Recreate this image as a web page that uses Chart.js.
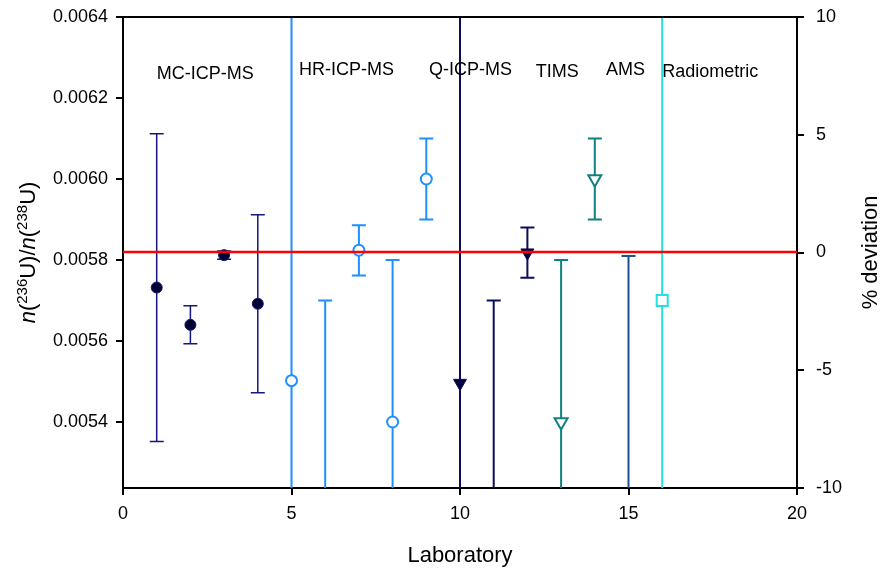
<!DOCTYPE html>
<html lang="en">
<head>
<meta charset="UTF-8">
<title>n(236U)/n(238U) laboratory comparison</title>
<script src="https://cdn.jsdelivr.net/npm/chart.js@4.4.1/dist/chart.umd.min.js"></script>
<style>
  html, body { margin: 0; padding: 0; background: #fff; }
</style>
</head>
<body>
<canvas id="ratioChart" width="880" height="569"></canvas>
<script>
// reported ratios per laboratory, with their uncertainty
const labs    = [1, 2, 3, 4, 5, 6, 7, 8, 9, 10, 11, 12, 13, 14, 15, 16];
const ratios  = [0.005732, 0.00564, 0.005812, 0.005692, 0.005502, 0.0050, 0.005824, 0.0054,
                 0.0060, 0.005496, 0.0050, 0.005818, 0.0054, 0.0060, 0.0050, 0.0057];
const uncert  = [0.00038, 0.000047, 0.00001, 0.00022, 0.0012, 0.0007, 0.000062, 0.0004,
                 0.0001, 0.0012, 0.0007, 0.000062, 0.0004, 0.0001, 0.00081, 0.0012];
const methods = ['MC', 'MC', 'MC', 'MC', 'HR', 'HR', 'HR', 'HR', 'HR', 'Q', 'Q', 'Q',
                 'TIMS', 'TIMS', 'AMS', 'RAD'];
const refValue = 0.00582;

const groupNames = ['MC-ICP-MS', 'HR-ICP-MS', 'Q-ICP-MS', 'TIMS', 'AMS', 'Radiometric'];

const xTicks     = [0, 5, 10, 15, 20];
const leftTicks  = [0.0054, 0.0056, 0.0058, 0.0060, 0.0062, 0.0064];
const rightTicks = [-10, -5, 0, 5, 10];

// where the technique names sit (lab units, ratio units)
const groupLabelX = [1.0, 5.22, 9.08, 12.25, 14.33, 16.0];
const groupLabelY = [0.006258, 0.00627, 0.00627, 0.006265, 0.00627, 0.006265];

const FONT = "'Liberation Sans', Arial, sans-serif";

const styles = {
  MC:   { color: '#16167f', fill: '#000030', shape: 'circle',   r: 5.5, rot: 0,   bw: 1, lw: 1.5 },
  HR:   { color: '#1e8fff', fill: '#ffffff', shape: 'circle',   r: 5.5, rot: 0,   bw: 2, lw: 2 },
  Q:    { color: '#0c0c5c', fill: '#000040', shape: 'triangle', r: 7.5, rot: 180, bw: 1, lw: 2 },
  TIMS: { color: '#118080', fill: '#ffffff', shape: 'triangle', r: 7.5, rot: 180, bw: 2, lw: 2 },
  AMS:  { color: '#1f4f8f', fill: '#ffffff', shape: 'circle',   r: 5,   rot: 0,   bw: 2, lw: 2 },
  RAD:  { color: '#24e0e0', fill: '#ffffff', shape: 'rect',     r: 7.8, rot: 0,   bw: 2, lw: 2 }
};
const st = i => styles[methods[i]];

// vertical error bars with caps, clipped to the plot area
const errorBars = {
  id: 'errorBars',
  beforeDatasetsDraw(chart) {
    const { ctx, chartArea: a, scales: { x, y } } = chart;
    ctx.save();
    ctx.beginPath();
    ctx.rect(a.left, a.top, a.right - a.left, a.bottom - a.top);
    ctx.clip();
    labs.forEach((lab, i) => {
      const px = x.getPixelForValue(lab);
      const top = y.getPixelForValue(ratios[i] + uncert[i]);
      const bot = y.getPixelForValue(ratios[i] - uncert[i]);
      ctx.strokeStyle = st(i).color;
      ctx.lineWidth = st(i).lw;
      ctx.beginPath();
      ctx.moveTo(px, top); ctx.lineTo(px, bot);
      ctx.moveTo(px - 7, top); ctx.lineTo(px + 7, top);
      ctx.moveTo(px - 7, bot); ctx.lineTo(px + 7, bot);
      ctx.stroke();
    });
    ctx.restore();
  }
};

// top frame line, technique names and axis titles
const decorations = {
  id: 'decorations',
  afterDraw(chart) {
    const { ctx, chartArea: a, scales: { x, y } } = chart;
    ctx.save();
    ctx.strokeStyle = '#000';
    ctx.lineWidth = 2;
    ctx.beginPath();
    ctx.moveTo(a.left - 1, a.top);
    ctx.lineTo(a.right + 1, a.top);
    ctx.stroke();

    ctx.fillStyle = '#000';
    ctx.font = '18px ' + FONT;
    ctx.textAlign = 'left';
    ctx.textBaseline = 'middle';
    groupNames.forEach((name, i) => {
      ctx.fillText(name, x.getPixelForValue(groupLabelX[i]), y.getPixelForValue(groupLabelY[i]));
    });

    // x title
    ctx.font = '22px ' + FONT;
    ctx.textAlign = 'center';
    ctx.textBaseline = 'alphabetic';
    ctx.fillText('Laboratory', (a.left + a.right) / 2, 562);

    // right title
    const midY = (a.top + a.bottom) / 2;
    ctx.save();
    ctx.translate(877, midY);
    ctx.rotate(-Math.PI / 2);
    ctx.fillText('% deviation', 0, 0);
    ctx.restore();

    // left title with italic n and superscript mass numbers
    const parts = [
      ['n', 'italic 22px ', 0], ['(', '22px ', 0], ['236', '15px ', 8], ['U)/', '22px ', 0],
      ['n', 'italic 22px ', 0], ['(', '22px ', 0], ['238', '15px ', 8], ['U)', '22px ', 0]
    ];
    let total = 0;
    parts.forEach(p => { ctx.font = p[1] + FONT; total += ctx.measureText(p[0]).width; });
    ctx.save();
    ctx.translate(34.5, midY);
    ctx.rotate(-Math.PI / 2);
    ctx.textAlign = 'left';
    let cx = -total / 2;
    parts.forEach(p => {
      ctx.font = p[1] + FONT;
      ctx.fillText(p[0], cx, -p[2]);
      cx += ctx.measureText(p[0]).width;
    });
    ctx.restore();
    ctx.restore();
  }
};

const axisGrid = { drawOnChartArea: false, drawTicks: true, tickLength: 7, color: '#000', lineWidth: 2 };
const tickFont = { family: FONT, size: 18 };

// fixed axis boxes so the plot area lands where it does in the figure
const fixBox = (w, h) => s => {
  if (w) s.width = w;
  if (h) s.height = h;
  s.paddingTop = 0; s.paddingBottom = 0; s.paddingLeft = 0; s.paddingRight = 0;
};

new Chart(document.getElementById('ratioChart'), {
  data: {
    datasets: [
      {
        type: 'line',
        data: [{ x: 0, y: refValue }, { x: 20, y: refValue }],
        borderColor: '#ff0000',
        borderWidth: 2.5,
        pointRadius: 0,
        yAxisID: 'y'
      },
      {
        type: 'scatter',
        data: labs.map((lab, i) => ({ x: lab, y: ratios[i] })),
        pointStyle: labs.map((_, i) => st(i).shape),
        pointRadius: labs.map((_, i) => st(i).r),
        pointRotation: labs.map((_, i) => st(i).rot),
        pointBackgroundColor: labs.map((_, i) => st(i).fill),
        pointBorderColor: labs.map((_, i) => st(i).color),
        pointBorderWidth: labs.map((_, i) => st(i).bw),
        yAxisID: 'y',
        clip: 0
      }
    ]
  },
  options: {
    responsive: false,
    animation: false,
    devicePixelRatio: 1,
    layout: { padding: { top: 17, left: 0, right: 0, bottom: 0 } },
    plugins: { legend: { display: false }, tooltip: { enabled: false } },
    scales: {
      x: {
        type: 'linear', position: 'bottom', min: 0, max: 20,
        afterBuildTicks: s => { s.ticks = xTicks.map(v => ({ value: v })); },
        afterFit: fixBox(0, 81),
        grid: axisGrid,
        border: { color: '#000', width: 2 },
        ticks: { color: '#000', font: tickFont, padding: 8, maxRotation: 0 }
      },
      y: {
        type: 'linear', position: 'left', min: 0.005237, max: 0.0064,
        afterBuildTicks: s => { s.ticks = leftTicks.map(v => ({ value: v })); },
        afterFit: fixBox(123, 0),
        grid: axisGrid,
        border: { color: '#000', width: 2 },
        ticks: { color: '#000', font: tickFont, padding: 8, callback: v => v.toFixed(4) }
      },
      y1: {
        type: 'linear', position: 'right', min: -10, max: 10,
        afterBuildTicks: s => { s.ticks = rightTicks.map(v => ({ value: v })); },
        afterFit: fixBox(83, 0),
        grid: axisGrid,
        border: { color: '#000', width: 2 },
        ticks: { color: '#000', font: tickFont, padding: 12, callback: v => String(v) }
      }
    }
  },
  plugins: [errorBars, decorations]
});
</script>
</body>
</html>
